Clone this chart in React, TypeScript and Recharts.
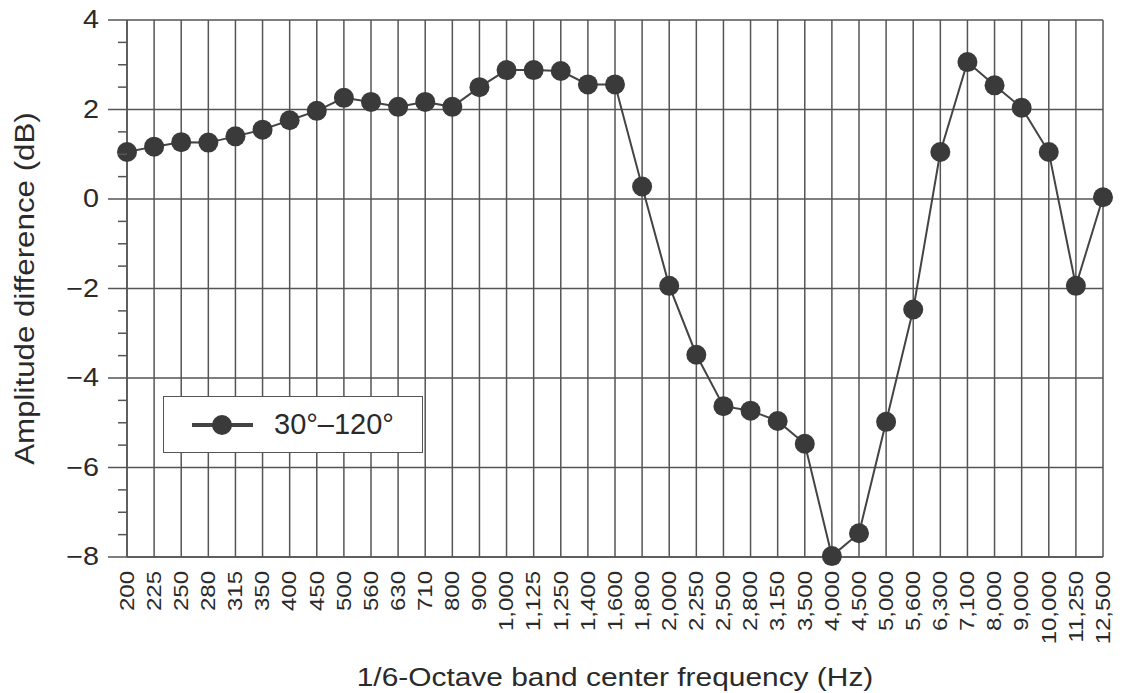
import React from "react";
import { LineChart, Line, XAxis, YAxis, CartesianGrid, Legend, Label } from "recharts";

// 1/6-octave band centre frequencies (Hz)
const categories = [
    "200", "225", "250", "280", "315", "350", "400", "450", "500", "560", "630", "710",
    "800", "900", "1,000", "1,125", "1,250", "1,400", "1,600", "1,800", "2,000", "2,250",
    "2,500", "2,800", "3,150", "3,500", "4,000", "4,500", "5,000", "5,600", "6,300",
    "7,100", "8,000", "9,000", "10,000", "11,250", "12,500",
];

// amplitude difference 30°–120° (dB)
const amplitude = [
    1.05, 1.17, 1.27, 1.26, 1.4, 1.55, 1.76, 1.97, 2.26, 2.17, 2.06, 2.17,
    2.06, 2.5, 2.88, 2.88, 2.86, 2.56, 2.56, 0.28, -1.94, -3.48,
    -4.63, -4.73, -4.96, -5.47, -7.98, -7.47, -4.98, -2.47, 1.05,
    3.06, 2.54, 2.04, 1.05, -1.94, 0.04,
];

const yTicks = [
    -8, -7.5, -7, -6.5, -6, -5.5, -5, -4.5, -4, -3.5, -3, -2.5, -2,
    -1.5, -1, -0.5, 0, 0.5, 1, 1.5, 2, 2.5, 3, 3.5, 4,
];
const yMajor = [-8, -6, -4, -2, 0, 2, 4];

const seriesName = "30°–120°";

const data = categories.map((freq, i) => ({ freq, value: amplitude[i] }));

const FONT = "'Liberation Sans', Arial, sans-serif";
const INK = "#2a2a2a";
const GRID = "#555";

// the original typeface runs wider than Arial, so stretch along the reading direction
function WideText({ x, y, angle = 0, stretch = 1.15, size, anchor = "middle", baseline, children }: any) {
    return (
        <text
            transform={`translate(${x}, ${y}) rotate(${angle}) scale(${stretch}, 1)`}
            x={0}
            y={0}
            textAnchor={anchor}
            dominantBaseline={baseline}
            fontSize={size}
            fill={INK}
            fontFamily={FONT}
        >
            {children}
        </text>
    );
}

function YTick(props: any) {
    const { x, y, payload } = props;
    const v = payload.value;
    const major = yMajor.includes(v);
    const text = v < 0 ? `\u2212${-v}` : `${v}`;
    return (
        <g>
            <line x1={x - (major ? 19 : 9)} x2={x} y1={y} y2={y} stroke={GRID} strokeWidth={1.5} />
            {major && (
                <WideText x={x - 28} y={y} size={25} anchor="end" baseline="central">
                    {text}
                </WideText>
            )}
        </g>
    );
}

function XTick(props: any) {
    const { x, y, payload } = props;
    return (
        <WideText x={x} y={y + 12} angle={-90} stretch={1.2} size={20} anchor="end" baseline="central">
            {payload.value}
        </WideText>
    );
}

function renderLegend() {
    return (
        <div
            style={{
                width: 260,
                height: 57,
                boxSizing: "border-box",
                border: `1.5px solid ${GRID}`,
                background: "#fff",
                display: "flex",
                alignItems: "center",
            }}
        >
            <svg width={90} height={24} style={{ marginLeft: 26 }}>
                <line x1={2} x2={63} y1={12} y2={12} stroke="#444" strokeWidth={4} />
                <circle cx={32} cy={12} r={10} fill="#3a3a3a" />
            </svg>
            <span style={{ fontFamily: FONT, fontSize: 29, color: INK, marginLeft: -6 }}>{seriesName}</span>
        </div>
    );
}

export default function App() {
    return (
        <div style={{ position: "absolute", left: 0, top: 0, background: "#fff" }}>
            <LineChart width={1140} height={693} data={data} margin={{ top: 20, right: 37, bottom: 0, left: 0 }}>
                <CartesianGrid stroke={GRID} strokeWidth={1.5} horizontalValues={yMajor} />
                <XAxis
                    dataKey="freq"
                    interval={0}
                    height={136}
                    tickLine={false}
                    tickSize={0}
                    tick={<XTick />}
                    axisLine={{ stroke: GRID, strokeWidth: 1.5 }}
                >
                    <Label
                        content={(p: any) => {
                            const vb = p.viewBox;
                            return (
                                <WideText x={vb.x + vb.width / 2} y={vb.y + vb.height - 7} size={26} stretch={1.15}>
                                    1/6-Octave band center frequency (Hz)
                                </WideText>
                            );
                        }}
                    />
                </XAxis>
                <YAxis
                    width={127}
                    domain={[-8, 4]}
                    ticks={yTicks}
                    interval={0}
                    tickLine={false}
                    tickSize={0}
                    tickMargin={0}
                    tick={<YTick />}
                    axisLine={{ stroke: GRID, strokeWidth: 1.5 }}
                >
                    <Label
                        content={(p: any) => {
                            const vb = p.viewBox;
                            return (
                                <WideText x={34} y={vb.y + vb.height / 2} angle={-90} size={27} stretch={1.16}>
                                    Amplitude difference (dB)
                                </WideText>
                            );
                        }}
                    />
                </YAxis>
                <Legend
                    layout="vertical"
                    align="center"
                    verticalAlign="middle"
                    content={renderLegend}
                    wrapperStyle={{ left: 163, top: 396, width: 260, height: 57 }}
                />
                <Line
                    type="linear"
                    dataKey="value"
                    name={seriesName}
                    stroke="#444"
                    strokeWidth={2}
                    dot={{ r: 10, fill: "#3a3a3a", stroke: "none" }}
                    activeDot={false}
                    isAnimationActive={false}
                />
            </LineChart>
        </div>
    );
}
